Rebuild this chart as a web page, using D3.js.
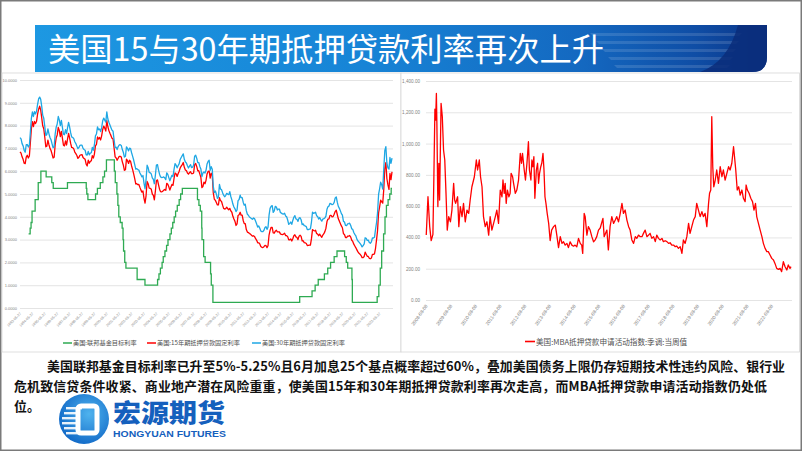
<!DOCTYPE html>
<html><head><meta charset="utf-8">
<script src="https://cdn.jsdelivr.net/npm/d3@7/dist/d3.min.js"></script>
<style>body{margin:0;background:#fff}svg{display:block}</style>
</head><body>
<svg id="c" width="802" height="451"></svg>
<script>
const titleText = "美国15与30年期抵押贷款利率再次上升";
const leftNames = ["美国:联邦基金目标利率", "美国:15年期抵押贷款固定利率", "美国:30年期抵押贷款固定利率"];
const rightName = "美国:MBA抵押贷款申请活动指数:季调:当周值";
const bodyLines = [
  "美国联邦基金目标利率已升至5%-5.25%且6月加息25个基点概率超过60%，叠加美国债务上限仍存短期技术性违约风险、银行业",
  "危机致信贷条件收紧、商业地产潜在风险重重，使美国15年和30年期抵押贷款利率再次走高，而MBA抵押贷款申请活动指数仍处低",
  "位。"
];
const logoCn = "宏源期货";
const logoEn = "HONGYUAN FUTURES";

// monthly values, 1993-05 .. 2023-05
const rate30 = [
 7.47,7.42,7.21,7.11,6.92,6.83,7.16,7.17,
 7.06,7.15,7.68,8.32,8.60,8.40,8.61,8.51,8.64,8.93,9.17,9.25,
 9.15,8.83,8.46,8.32,7.96,7.57,7.61,7.86,7.64,7.48,7.38,7.20,
 7.03,7.08,7.62,7.93,8.07,8.40,8.25,8.00,8.23,7.92,7.62,7.60,
 7.82,7.65,7.90,8.14,7.94,7.69,7.50,7.48,7.43,7.29,7.21,7.10,
 6.99,7.04,7.13,7.14,7.14,7.00,6.95,6.92,6.72,6.71,6.87,6.72,
 6.79,6.81,7.04,6.92,7.15,7.55,7.63,7.94,7.82,7.85,7.74,7.91,
 8.21,8.33,8.24,8.15,8.60,8.29,8.15,8.03,7.91,7.80,7.75,7.38,
 7.03,7.05,6.95,7.08,7.15,7.16,7.13,6.95,6.82,6.62,6.66,7.07,
 7.00,6.89,7.01,6.99,6.81,6.65,6.49,6.29,6.09,6.11,6.07,6.05,
 5.92,5.84,5.75,5.81,5.48,5.23,5.63,6.26,6.15,5.95,5.93,5.88,
 5.71,5.64,5.45,5.83,6.27,6.29,6.06,5.87,5.75,5.72,5.73,5.75,
 5.71,5.63,5.93,5.86,5.72,5.58,5.70,5.82,5.77,6.07,6.33,6.27,
 6.15,6.25,6.32,6.51,6.60,6.68,6.76,6.52,6.40,6.36,6.24,6.14,
 6.22,6.29,6.16,6.18,6.26,6.66,6.70,6.57,6.38,6.38,6.21,6.10,
 5.76,5.92,5.97,5.92,6.04,6.32,6.43,6.48,6.04,6.20,6.09,5.33,
 5.06,5.13,5.00,4.81,4.86,5.42,5.22,5.19,5.06,4.95,4.88,4.93,
 5.03,4.99,4.97,5.10,4.89,4.74,4.56,4.43,4.35,4.23,4.30,4.71,
 4.76,4.95,4.84,4.84,4.64,4.51,4.55,4.27,4.11,4.07,3.99,3.96,
 3.92,3.89,3.95,3.91,3.80,3.68,3.55,3.60,3.50,3.38,3.35,3.35,
 3.41,3.53,3.57,3.45,3.54,4.07,4.37,4.46,4.49,4.19,4.26,4.46,
 4.43,4.30,4.34,4.34,4.19,4.16,4.13,4.12,4.16,4.04,4.00,3.86,
 3.67,3.71,3.77,3.67,3.84,3.98,4.05,3.91,3.89,3.80,3.94,3.96,
 3.87,3.66,3.69,3.61,3.60,3.57,3.44,3.44,3.46,3.47,3.77,4.20,
 4.15,4.17,4.20,4.05,4.01,3.90,3.97,3.88,3.81,3.90,3.92,3.95,
 4.03,4.33,4.44,4.47,4.59,4.57,4.53,4.55,4.63,4.83,4.87,4.64,
 4.46,4.37,4.27,4.14,4.07,3.80,3.77,3.62,3.61,3.69,3.70,3.72,
 3.62,3.47,3.45,3.31,3.23,3.16,3.02,2.94,2.89,2.83,2.77,2.68,
 2.74,2.81,3.08,3.06,2.96,2.98,2.87,2.84,2.90,3.07,3.07,3.10,
 3.45,3.76,4.17,4.98,5.23,5.52,5.41,5.22,6.11,6.90,7.08,6.36,
 6.15,6.09,6.60,6.34,6.57
];
const rate15 = [
 6.85,6.79,6.63,6.52,6.35,6.33,6.62,6.70,
 6.58,6.67,7.23,7.85,8.17,7.96,8.18,8.09,8.19,8.50,8.72,8.85,
 8.68,8.33,7.99,7.86,7.49,7.07,7.10,7.36,7.16,7.00,6.91,6.75,
 6.58,6.61,7.15,7.46,7.59,7.92,7.79,7.52,7.75,7.45,7.14,7.11,
 7.33,7.15,7.41,7.66,7.46,7.22,7.04,7.03,6.98,6.84,6.77,6.69,
 6.56,6.61,6.70,6.72,6.73,6.60,6.56,6.52,6.31,6.23,6.48,6.35,
 6.43,6.46,6.68,6.58,6.75,7.11,7.18,7.50,7.41,7.48,7.37,7.55,
 7.83,7.98,7.89,7.76,8.22,7.95,7.78,7.66,7.56,7.45,7.41,7.02,
 6.63,6.58,6.48,6.57,6.65,6.65,6.62,6.41,6.26,6.04,6.07,6.53,
 6.46,6.34,6.48,6.43,6.23,6.07,5.88,5.67,5.44,5.45,5.41,5.42,
 5.29,5.17,5.08,5.13,4.81,4.60,4.92,5.55,5.45,5.26,5.25,5.21,
 5.00,4.94,4.74,5.14,5.58,5.62,5.41,5.21,5.10,5.09,5.12,5.16,
 5.20,5.16,5.47,5.43,5.32,5.17,5.30,5.42,5.38,5.67,5.92,5.89,
 5.77,5.90,5.99,6.14,6.22,6.29,6.38,6.17,6.05,6.03,5.92,5.87,
 5.94,5.98,5.89,5.89,5.92,6.29,6.34,6.21,6.02,6.02,5.87,5.73,
 5.28,5.33,5.52,5.45,5.60,5.88,5.99,6.01,5.70,5.91,5.82,5.05,
 4.77,4.72,4.63,4.52,4.52,4.84,4.71,4.67,4.51,4.37,4.34,4.36,
 4.42,4.35,4.31,4.37,4.26,4.20,4.02,3.90,3.80,3.62,3.69,4.06,
 4.09,4.20,4.07,4.07,3.84,3.70,3.70,3.44,3.33,3.31,3.27,3.24,
 3.19,3.15,3.17,3.13,3.04,2.97,2.86,2.86,2.81,2.70,2.66,2.65,
 2.69,2.75,2.74,2.65,2.73,3.20,3.40,3.54,3.54,3.29,3.28,3.37,
 3.41,3.34,3.34,3.34,3.25,3.23,3.22,3.24,3.28,3.18,3.17,3.13,
 2.99,2.99,3.03,2.94,3.04,3.17,3.21,3.12,3.09,3.00,3.15,3.19,
 3.14,2.94,2.95,2.87,2.86,2.83,2.74,2.75,2.76,2.76,3.04,3.44,
 3.40,3.38,3.41,3.27,3.24,3.17,3.24,3.16,3.10,3.20,3.26,3.35,
 3.50,3.79,3.90,3.91,4.06,4.06,4.00,4.01,4.11,4.23,4.29,4.10,
 3.91,3.81,3.71,3.60,3.52,3.26,3.22,3.09,3.09,3.15,3.15,3.18,
 3.11,2.97,2.92,2.80,2.72,2.64,2.55,2.46,2.40,2.36,2.30,2.21,
 2.21,2.26,2.45,2.36,2.27,2.26,2.18,2.16,2.19,2.35,2.35,2.37,
 2.62,3.01,3.39,4.17,4.43,4.73,4.66,4.60,5.21,6.10,6.38,5.68,
 5.40,5.20,5.90,5.63,5.97
];
const fedDates = ["1994-02-04","1994-03-22","1994-04-18","1994-05-17","1994-08-16","1994-11-15","1995-02-01","1995-07-06","1995-12-19","1996-01-31","1997-03-25","1998-09-29","1998-10-15","1998-11-17","1999-06-30","1999-08-24","1999-11-16","2000-02-02","2000-03-21","2000-05-16","2001-01-03","2001-01-31","2001-03-20","2001-04-18","2001-05-15","2001-06-27","2001-08-21","2001-09-17","2001-10-02","2001-11-06","2001-12-11","2002-11-06","2003-06-25","2004-06-30","2004-08-10","2004-09-21","2004-11-10","2004-12-14","2005-02-02","2005-03-22","2005-05-03","2005-06-30","2005-08-09","2005-09-20","2005-11-01","2005-12-13","2006-01-31","2006-03-28","2006-05-10","2006-06-29","2007-09-18","2007-10-31","2007-12-11","2008-01-22","2008-01-30","2008-03-18","2008-04-30","2008-10-08","2008-10-29","2008-12-16","2015-12-16","2016-12-14","2017-03-15","2017-06-14","2017-12-13","2018-03-21","2018-06-13","2018-09-26","2018-12-19","2019-07-31","2019-09-18","2019-10-30","2020-03-03","2020-03-15","2022-03-16","2022-05-04","2022-06-15","2022-07-27","2022-09-21","2022-11-02","2022-12-14","2023-02-01","2023-03-22","2023-05-03","2023-05-27"];
const fedRates = [3.25,3.5,3.75,4.25,4.75,5.5,6.0,5.75,5.5,5.25,5.5,5.25,5.0,4.75,5.0,5.25,5.5,5.75,6.0,6.5,6.0,5.5,5.0,4.5,4.0,3.75,3.5,3.0,2.5,2.0,1.75,1.25,1.0,1.25,1.5,1.75,2.0,2.25,2.5,2.75,3.0,3.25,3.5,3.75,4.0,4.25,4.5,4.75,5.0,5.25,4.75,4.5,4.25,3.5,3.0,2.25,2.0,1.5,1.0,0.25,0.5,0.75,1.0,1.25,1.5,1.75,2.0,2.25,2.5,2.25,2.0,1.75,1.25,0.25,0.5,1.0,1.75,2.5,3.25,4.0,4.5,4.75,5.0,5.25,5.25];
const leftYTicks = [0,1,2,3,4,5,6,7,8,9,10];
const leftXTicks = ["1993-05-27","1994-05-27","1995-05-27","1996-05-27","1997-05-27","1998-05-27","1999-05-27","2000-05-27","2001-05-27","2002-05-27","2003-05-27","2004-05-27","2005-05-27","2006-05-27","2007-05-27","2008-05-27","2009-05-27","2010-05-27","2011-05-27","2012-05-27","2013-05-27","2014-05-27","2015-05-27","2016-05-27","2017-05-27","2018-05-27","2019-05-27","2020-05-27","2021-05-27","2022-05-27"];

// MBA index: [decimal year, value]
const mbaSeries = [
 [2008.61,415],[2008.68,660],[2008.75,469],[2008.81,380],[2008.88,420],[2008.92,800],[2008.96,1220],[2008.99,1150],[2009.02,1320],[2009.04,1130],
 [2009.08,597],[2009.12,874],[2009.15,639],[2009.21,1257],[2009.26,1172],[2009.31,959],[2009.36,895],[2009.41,682],[2009.46,447],[2009.52,533],
 [2009.59,500],[2009.65,575],[2009.72,746],[2009.76,639],[2009.80,618],[2009.88,660],[2009.93,469],[2009.99,597],[2010.06,533],[2010.12,618],
 [2010.19,500],[2010.26,575],[2010.33,554],[2010.39,639],[2010.46,724],[2010.56,788],[2010.64,895],[2010.69,831],[2010.76,895],[2010.81,788],
 [2010.87,724],[2010.93,533],[2011.00,469],[2011.07,500],[2011.14,415],[2011.20,533],[2011.27,447],[2011.34,490],[2011.41,533],[2011.47,575],
 [2011.54,490],[2011.61,703],[2011.68,660],[2011.72,767],[2011.77,682],[2011.81,746],[2011.85,618],[2011.90,703],[2011.96,660],[2012.01,682],
 [2012.05,810],[2012.11,788],[2012.15,746],[2012.22,682],[2012.28,703],[2012.35,767],[2012.42,937],[2012.47,874],[2012.51,937],[2012.58,831],
 [2012.63,767],[2012.69,874],[2012.75,1012],[2012.79,831],[2012.85,767],[2012.89,895],[2012.93,852],[2012.97,916],[2013.01,650],[2013.07,831],
 [2013.12,874],[2013.16,746],[2013.20,810],[2013.25,852],[2013.29,874],[2013.34,937],[2013.38,831],[2013.42,660],[2013.46,618],[2013.51,554],
 [2013.57,490],[2013.63,380],[2013.69,447],[2013.77,469],[2013.84,479],[2013.90,415],[2013.97,335],[2014.04,405],[2014.11,362],[2014.17,372],
 [2014.24,351],[2014.31,362],[2014.37,335],[2014.44,372],[2014.51,351],[2014.58,344],[2014.64,351],[2014.71,340],[2014.78,394],[2014.85,362],
 [2014.91,351],[2014.95,298],[2015.01,554],[2015.05,533],[2015.12,415],[2015.18,469],[2015.25,447],[2015.32,405],[2015.39,372],[2015.45,383],
 [2015.52,405],[2015.59,447],[2015.66,460],[2015.77,522],[2015.82,405],[2015.93,447],[2015.99,320],[2016.06,469],[2016.13,533],[2016.20,490],
 [2016.27,511],[2016.33,533],[2016.40,500],[2016.47,554],[2016.54,618],[2016.60,554],[2016.67,575],[2016.74,511],[2016.81,469],[2016.87,447],
 [2016.94,384],[2017.01,362],[2017.08,405],[2017.14,394],[2017.21,415],[2017.28,405],[2017.35,405],[2017.41,426],[2017.48,447],[2017.55,405],
 [2017.62,415],[2017.68,426],[2017.75,394],[2017.82,405],[2017.89,373],[2017.95,415],[2018.02,394],[2018.09,384],[2018.16,394],[2018.22,373],
 [2018.29,379],[2018.36,373],[2018.43,362],[2018.49,366],[2018.56,351],[2018.63,351],[2018.70,341],[2018.76,345],[2018.83,330],[2018.90,341],
 [2018.97,298],[2019.03,384],[2019.10,362],[2019.17,405],[2019.24,490],[2019.30,426],[2019.37,469],[2019.44,511],[2019.51,533],[2019.57,618],
 [2019.64,575],[2019.71,533],[2019.78,565],[2019.84,533],[2019.91,554],[2019.98,469],[2020.05,618],[2020.09,682],[2020.14,703],[2020.18,1172],
 [2020.22,852],[2020.26,724],[2020.32,767],[2020.38,831],[2020.45,746],[2020.52,852],[2020.59,788],[2020.65,831],[2020.72,767],[2020.79,810],
 [2020.86,852],[2020.92,831],[2020.99,874],[2021.06,980],[2021.10,916],[2021.15,831],[2021.21,703],[2021.27,724],[2021.33,671],[2021.40,703],
 [2021.46,650],[2021.53,629],[2021.57,735],[2021.62,703],[2021.69,682],[2021.76,650],[2021.83,629],[2021.89,575],[2021.95,618],[2022.00,533],
 [2022.07,490],[2022.14,447],[2022.21,405],[2022.27,362],[2022.34,330],[2022.41,309],[2022.47,309],[2022.54,288],[2022.61,266],[2022.68,256],
 [2022.74,234],[2022.81,202],[2022.88,196],[2022.95,202],[2023.01,181],[2023.08,245],[2023.15,213],[2023.22,192],[2023.28,224],[2023.35,202],
 [2023.39,213]
];
const rightYTicks = [0,200,400,600,800,1000,1200,1400];
const rightXTicks = ["2008-08-08","2009-08-08","2010-08-08","2011-08-08","2012-08-08","2013-08-08","2014-08-08","2015-08-08","2016-08-08","2017-08-08","2018-08-08","2019-08-08","2020-08-08","2021-08-08","2022-08-08"];

const svg = d3.select("#c");
const parse = d3.timeParse("%Y-%m-%d");
const fmtDate = d3.timeFormat("%Y-%m-%d");
function decYear(t){const y=Math.floor(t);const a=new Date(y,0,1).getTime(),b=new Date(y+1,0,1).getTime();return new Date(a+(t-y)*(b-a));}
const CN = "'Noto Sans CJK SC','Noto Sans',sans-serif";

// frame & panels
svg.append("rect").attr("x",0.75).attr("y",0.75).attr("width",800.5).attr("height",449.5).attr("fill","#fff").attr("stroke","#7a7a7a").attr("stroke-width",1.5);
svg.append("rect").attr("x",2).attr("y",73).attr("width",399).attr("height",279).attr("fill","#fff").attr("stroke","#d6d6d6").attr("stroke-width",0.8);
svg.append("rect").attr("x",401).attr("y",73).attr("width",398.5).attr("height",279).attr("fill","#fff").attr("stroke","#d6d6d6").attr("stroke-width",0.8);

// banner
const defs = svg.append("defs");
const lg = defs.append("linearGradient").attr("id","bn").attr("x1","0").attr("x2","1").attr("y1","0").attr("y2","0");
[[0,"#1d98e2"],[0.45,"#1784d6"],[0.75,"#1468c0"],[0.9,"#0f4ea6"],[1,"#0a3588"]].forEach(s=>lg.append("stop").attr("offset",s[0]).attr("stop-color",s[1]));
svg.append("path").attr("d","M35,25H767V57Q767,72 752,72H35Z").attr("fill","url(#bn)");
[33,41,49,57,65].forEach((y,i)=>{
  svg.append("path").attr("d",`M${590+i*6},${y}H${742-i*3}L${739-i*3},${y+3}H${593+i*6}Z`).attr("fill","#ffffff").attr("opacity",0.13);
});
svg.append("path").attr("d","M738,25H767V57Q767,72 752,72H700Q728,62 738,25Z").attr("fill","#0a2d7a").attr("opacity",0.85);
svg.append("text").attr("x",48).attr("y",61).attr("font-family",CN).attr("font-size",32).attr("fill","#fff")
  .attr("textLength",556).attr("lengthAdjust","spacingAndGlyphs").text(titleText);

// ---------- left chart ----------
const mDates = rate30.map((_,i)=>new Date(1993,4+i,27));
const xL = d3.scaleTime().domain([mDates[0], mDates[mDates.length-1]]).range([20,392]);
const yL = d3.scaleLinear().domain([0,10]).range([308,80]);
const gyL = svg.append("g").attr("transform","translate(20,0)")
  .call(d3.axisLeft(yL).tickValues(leftYTicks).tickFormat(d3.format(".4f")).tickSize(-373).tickPadding(3));
gyL.select(".domain").remove();
gyL.selectAll(".tick line").attr("stroke","#d9d9d9").attr("stroke-width",0.7);
gyL.selectAll(".tick text").attr("font-size",4).attr("fill","#7f7f7f").attr("font-family","'Liberation Sans',Arial,sans-serif");
const gxL = svg.append("g").attr("transform","translate(0,308)")
  .call(d3.axisBottom(xL).tickValues(leftXTicks.map(parse)).tickFormat(fmtDate).tickSize(0));
gxL.select(".domain").remove();
gxL.selectAll(".tick text").attr("y",0).attr("dy","0.35em").attr("text-anchor","end")
  .attr("transform","translate(0,5) rotate(-45)").attr("font-size",3.6).attr("fill","#7f7f7f").attr("font-family","'Liberation Sans',Arial,sans-serif");

const fedData = fedDates.map((d,i)=>({d:parse(d),v:fedRates[i]}));
const r15 = mDates.map((d,i)=>({d,v:rate15[i]}));
const r30 = mDates.map((d,i)=>({d,v:rate30[i]}));
const colors = ["#2eaa52","#ff0000","#1ea7e4"];
const stepLine = d3.line().x(p=>xL(p.d)).y(p=>yL(p.v)).curve(d3.curveStepAfter);
const lineL = d3.line().x(p=>xL(p.d)).y(p=>yL(p.v));
svg.append("path").datum(fedData).attr("d",stepLine).attr("fill","none").attr("stroke",colors[0]).attr("stroke-width",1.3);
svg.append("path").datum(r15).attr("d",lineL).attr("fill","none").attr("stroke",colors[1]).attr("stroke-width",1.3).attr("stroke-linejoin","round");
svg.append("path").datum(r30).attr("d",lineL).attr("fill","none").attr("stroke",colors[2]).attr("stroke-width",1.3).attr("stroke-linejoin","round");

// left legend
const legX = [63,147,252];
leftNames.forEach((n,i)=>{
  svg.append("line").attr("x1",legX[i]).attr("x2",legX[i]+9).attr("y1",343).attr("y2",343).attr("stroke",colors[i]).attr("stroke-width",1.5);
  svg.append("text").attr("x",legX[i]+10).attr("y",345.2).attr("font-family",CN).attr("font-size",6.2).attr("fill","#505050").text(n);
});

// ---------- right chart ----------
const mba = mbaSeries.map(p=>({d:decYear(p[0]),v:p[1]}));
const xR = d3.scaleTime().domain([decYear(2008.60), decYear(2023.39)]).range([426,791]);
const yR = d3.scaleLinear().domain([0,1400]).range([300,81]);
const gyR = svg.append("g").attr("transform","translate(426,0)")
  .call(d3.axisLeft(yR).tickValues(rightYTicks).tickFormat(d3.format(",.2f")).tickSize(-366).tickPadding(6));
gyR.select(".domain").remove();
gyR.selectAll(".tick line").attr("stroke","#d9d9d9").attr("stroke-width",0.7);
gyR.selectAll(".tick text").attr("font-size",4.6).attr("fill","#7f7f7f").attr("font-family","'Liberation Sans',Arial,sans-serif");
const gxR = svg.append("g").attr("transform","translate(0,300)")
  .call(d3.axisBottom(xR).tickValues(rightXTicks.map(parse)).tickFormat(fmtDate).tickSize(0));
gxR.select(".domain").remove();
gxR.selectAll(".tick text").attr("y",0).attr("dy","0.35em").attr("text-anchor","end")
  .attr("transform","translate(0,5) rotate(-55)").attr("font-size",4.8).attr("fill","#7f7f7f").attr("font-family","'Liberation Sans',Arial,sans-serif");
svg.append("path").datum(mba).attr("d",d3.line().x(p=>xR(p.d)).y(p=>yR(p.v))).attr("fill","none").attr("stroke","#ff0000").attr("stroke-width",1.3).attr("stroke-linejoin","round");
svg.append("line").attr("x1",525).attr("x2",535).attr("y1",341.5).attr("y2",341.5).attr("stroke","#ff0000").attr("stroke-width",1.6);
svg.append("text").attr("x",536).attr("y",344.5).attr("font-family",CN).attr("font-size",7.6).attr("fill","#505050").text(rightName);

// ---------- body text ----------
const bodyX = [47,14,14], bodyY = [370.5,390.5,410.5], bodyW = [738,753,null];
bodyLines.forEach((t,i)=>{
  const tx = svg.append("text").attr("x",bodyX[i]).attr("y",bodyY[i]).attr("font-family",CN).attr("font-weight",700)
    .attr("font-size",12.9).attr("fill","#111").text(t);
  if (bodyW[i]) tx.attr("textLength",bodyW[i]).attr("lengthAdjust","spacing");
});

// ---------- logo ----------
const rg = defs.append("radialGradient").attr("id","lg").attr("cx","0.6").attr("cy","0.4").attr("r","0.7");
rg.append("stop").attr("offset",0).attr("stop-color","#4fb3ee");
rg.append("stop").attr("offset",1).attr("stop-color","#0c63c4");
const lgG = svg.append("g");
lgG.append("circle").attr("cx",84).attr("cy",419).attr("r",25).attr("fill","url(#lg)");
[407,412,417,422,427,432].forEach((y,i)=>{
  lgG.append("rect").attr("x",61+Math.abs(i-2.5)*2).attr("y",y).attr("width",16).attr("height",2.4).attr("fill","#fff").attr("opacity",0.9);
});
lgG.append("rect").attr("x",78).attr("y",406).attr("width",19).attr("height",27).attr("rx",3).attr("fill","none").attr("stroke","#fff").attr("stroke-width",5);
svg.append("text").attr("x",113).attr("y",422).attr("font-family",CN).attr("font-weight",900).attr("font-size",25)
  .attr("fill","#1560bd").attr("textLength",112).attr("lengthAdjust","spacingAndGlyphs").text(logoCn);
svg.append("text").attr("x",113).attr("y",437).attr("font-family","'Liberation Sans',Arial,sans-serif").attr("font-weight",700).attr("font-size",9)
  .attr("fill","#1560bd").attr("textLength",113).attr("lengthAdjust","spacingAndGlyphs").text(logoEn);
</script>
</body></html>
